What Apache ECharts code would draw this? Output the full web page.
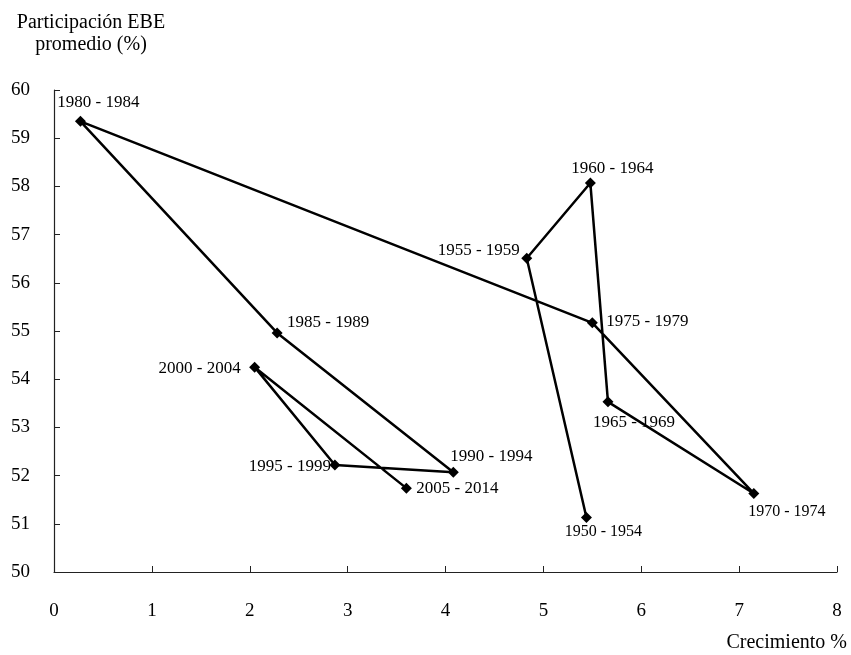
<!DOCTYPE html>
<html>
<head>
<meta charset="utf-8">
<script src="https://cdn.jsdelivr.net/npm/echarts@6/dist/echarts.min.js"></script>
<style>
html,body{margin:0;padding:0;background:#fff;}
#chart{width:851px;height:655px;}
</style>
</head>
<body>
<div id="chart"></div>
<script>
// Data
const periods = ['1950 - 1954','1955 - 1959','1960 - 1964','1965 - 1969','1970 - 1974','1975 - 1979',
                 '1980 - 1984','1985 - 1989','1990 - 1994','1995 - 1999','2000 - 2004','2005 - 2014'];
const growth  = [5.44, 4.83, 5.48, 5.66, 7.15, 5.50, 0.27, 2.28, 4.08, 2.87, 2.05, 3.60];
const ebeShare = [51.13, 56.51, 58.07, 53.53, 51.63, 55.17, 59.35, 54.96, 52.07, 52.22, 54.25, 51.74];
const xTicks = [0, 8, 1];   // min, max, interval
const yTicks = [50, 60, 1];

// Label placement (style, not data)
const labelOffsets = [[17,14],[-48,-8],[22,-14],[26,21],[33,18],[55,-1],
                      [18,-19],[51,-10],[38,-16],[-45,2],[-55,1],[51,0]];
const labelSizes = [16,17,17,17,16,17,17,17,17,17,17,17];

const font = 'Liberation Serif';
const chart = echarts.init(document.getElementById('chart'), null, {renderer:'canvas'});

const data = growth.map((g, i) => ({
  value: [g, ebeShare[i]],
  name: periods[i],
  label: {
    show: true,
    position: 'inside',
    formatter: periods[i],
    fontSize: labelSizes[i],
    fontFamily: font,
    color: '#000',
    align: 'center',
    verticalAlign: 'middle'
  }
}));

chart.setOption({
  animation: false,
  backgroundColor: '#fff',
  grid: {left: 54, right: 14, top: 90, bottom: 83, containLabel: false},
  xAxis: {
    type: 'value',
    min: xTicks[0], max: xTicks[1], interval: xTicks[2],
    axisLine: {show: true, lineStyle: {color: '#222', width: 1.2}},
    axisTick: {show: true, inside: true, length: 6, lineStyle: {color: '#222'}},
    axisLabel: {margin: 30, fontFamily: font, fontSize: 19, color: '#000'},
    splitLine: {show: false}
  },
  yAxis: {
    type: 'value',
    min: yTicks[0], max: yTicks[1], interval: yTicks[2],
    axisLine: {show: true, lineStyle: {color: '#222', width: 1.2}},
    axisTick: {show: true, inside: true, length: 6, lineStyle: {color: '#222'}},
    axisLabel: {margin: 24, fontFamily: font, fontSize: 19, color: '#000'},
    splitLine: {show: false}
  },
  graphic: [
    {type: 'text', x: 91, y: 23, style: {text: 'Participación EBE', font: '20px "Liberation Serif"', fill: '#000', align: 'center', verticalAlign: 'middle'}},
    {type: 'text', x: 91, y: 45, style: {text: 'promedio (%)', font: '20px "Liberation Serif"', fill: '#000', align: 'center', verticalAlign: 'middle'}},
    {type: 'text', x: 847, y: 643, style: {text: 'Crecimiento %', font: '20px "Liberation Serif"', fill: '#000', align: 'right', verticalAlign: 'middle'}}
  ],
  series: [{
    type: 'line',
    data: data,
    symbol: 'diamond',
    symbolSize: 11,
    lineStyle: {color: '#000', width: 2.5},
    itemStyle: {color: '#000'},
    labelLayout: function (params) {
      const o = labelOffsets[params.dataIndex];
      return {dx: o[0], dy: o[1], hideOverlap: false};
    }
  }]
});
</script>
</body>
</html>
